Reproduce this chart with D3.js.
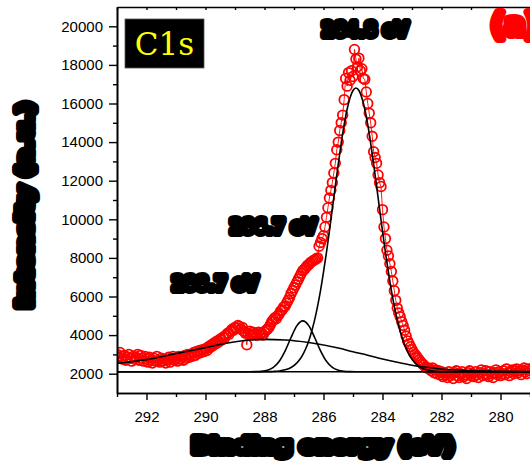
<!DOCTYPE html>
<html><head><meta charset="utf-8">
<script src="https://cdn.jsdelivr.net/npm/d3@7"></script>
<style>html,body{margin:0;padding:0;background:#fff;} svg{display:block;}</style>
</head><body><svg id="chart" width="530" height="471"></svg>
<script>
// ---------------- data ----------------
const bindingEnergy = [
  293.00,292.95,292.90,292.85,292.80,292.75,292.70,292.65,292.60,292.55,
  292.50,292.45,292.40,292.35,292.30,292.25,292.20,292.15,292.10,292.05,
  292.00,291.95,291.90,291.85,291.80,291.75,291.70,291.65,291.60,291.55,
  291.50,291.45,291.40,291.35,291.30,291.25,291.20,291.15,291.10,291.05,
  291.00,290.95,290.90,290.85,290.80,290.75,290.70,290.65,290.60,290.55,
  290.50,290.45,290.40,290.35,290.30,290.25,290.20,290.15,290.10,290.05,
  290.00,289.95,289.90,289.85,289.80,289.75,289.70,289.65,289.60,289.55,
  289.50,289.45,289.40,289.35,289.30,289.25,289.20,289.15,289.10,289.05,
  289.00,288.95,288.90,288.85,288.80,288.75,288.70,288.65,288.60,
  288.55,288.50,288.45,288.40,288.35,288.30,288.25,288.20,288.15,288.10,
  288.05,288.00,287.95,287.90,287.85,287.80,287.75,287.70,287.65,287.60,
  287.55,287.50,287.45,287.40,287.35,287.30,287.25,287.20,287.15,287.10,
  287.05,287.00,286.95,286.90,286.85,286.80,286.75,286.70,286.65,286.60,
  286.55,286.50,286.45,286.40,286.35,286.30,286.25,286.20,286.15,286.10,
  286.05,286.00,285.95,285.90,285.85,285.80,285.75,285.70,285.65,285.60,
  285.55,285.50,285.45,285.40,285.35,285.30,285.25,285.20,285.15,285.10,
  285.05,285.00,284.95,284.90,284.85,284.80,284.75,284.70,284.65,284.60,
  284.55,284.50,284.45,284.40,284.35,284.30,284.25,284.20,284.15,284.10,
  284.05,284.00,283.95,283.90,283.85,283.80,283.75,283.70,283.65,283.60,
  283.55,283.50,283.45,283.40,283.35,283.30,283.25,283.20,283.15,283.10,
  283.05,283.00,282.95,282.90,282.85,282.80,282.75,282.70,282.65,282.60,
  282.55,282.50,
  282.45,282.40,282.35,282.30,282.25,282.20,282.15,282.10,282.05,282.00,
  281.95,281.90,281.85,281.80,281.75,281.70,281.65,281.60,281.55,281.50,
  281.45,281.40,281.35,281.30,281.25,281.20,281.15,281.10,281.05,281.00,
  280.95,280.90,280.85,280.80,280.75,280.70,280.65,280.60,280.55,280.50,
  280.45,280.40,280.35,280.30,280.25,280.20,280.15,280.10,280.05,280.00,
  279.95,279.90,279.85,279.80,279.75,279.70,279.65,279.60,279.55,279.50,
  279.45,279.40,279.35,279.30,279.25,279.20,279.15,279.10,279.05,279.00
];
const intensity = [
  3000,2850,3100,2900,2750,2950,2700,2850,3000,2800,
  2650,2900,2750,2850,3000,2700,2950,2800,2650,2900,
  2750,2600,2850,2700,2550,2800,2650,2900,2700,2600,
  2800,2650,2750,2550,2700,2850,2600,2750,2900,2700,
  2800,2650,2900,2750,2850,2700,2950,2800,3000,2850,
  3000,2900,3100,2950,3150,3050,3200,3100,3250,3150,
  3300,3200,3400,3350,3500,3450,3600,3550,3700,3650,
  3800,3750,3900,3850,4000,4100,4050,4200,4300,4250,
  4400,4350,4500,4450,4300,4400,4200,4100,3500,
  4100,4200,4050,4150,4050,4100,4000,4150,4050,4100,
  4000,4150,4250,4300,4400,4550,4700,4800,4900,4850,
  5000,5100,5250,5300,5450,5500,5650,5800,5950,6150,
  6300,6450,6600,6750,6900,7050,7200,7350,7400,7500,
  7600,7650,7750,7800,7850,7900,7950,8000,8600,8800,
  9000,9150,9600,10100,10600,11100,11500,11900,12400,12900,
  13600,14000,14600,15000,15400,16200,17300,16900,17600,17200,
  17700,17400,18800,18300,17900,18350,17700,17800,17300,17250,
  16600,16000,15500,15000,14300,13500,13200,12900,12300,11900,
  11700,10500,9600,9000,8400,8100,7700,7300,6800,6300,
  5800,5400,5150,4950,4700,4500,4250,3950,3700,3550,
  3400,3250,3100,3000,2900,2800,2700,2600,2500,2450,
  2350,2300,
  2300,2250,2150,2300,2050,2200,2000,2150,1950,2100,
  1850,2050,1950,1800,2100,1900,2000,1750,2050,2150,
  1900,1800,2000,2100,1850,1950,1750,2050,2150,1900,
  2000,1850,2100,1950,1800,2050,2200,1900,2000,2150,
  1950,1850,2100,2000,1800,2050,2200,1950,2100,1900,
  2000,2150,1950,2250,2050,1900,2100,2200,2000,2150,
  2250,2050,2150,1950,2200,2300,2100,2000,2250,2150
];
// fitted components: [binding energy, intensity]
const fitBaseline = [[293,2100],[279,2100]];
const fitPeak2848 = [
  [293,2100],[288.3,2100],[287.9,2106],[287.7,2117],[287.5,2142],[287.3,2200],[287.1,2320],
  [286.9,2560],[286.8,2745],[286.7,2990],[286.6,3305],[286.5,3700],[286.4,4200],[286.3,4790],
  [286.2,5500],[286.1,6320],[286.0,7260],[285.9,8280],[285.8,9390],[285.7,10550],[285.6,11720],
  [285.5,12860],[285.4,13940],[285.3,14900],[285.2,15700],[285.1,16300],[285.0,16675],[284.9,16800],
  [284.8,16675],[284.7,16300],[284.6,15700],[284.5,14900],[284.4,13940],[284.3,12860],[284.2,11720],
  [284.1,10550],[284.0,9390],[283.9,8280],[283.8,7260],[283.7,6320],[283.6,5500],[283.5,4790],
  [283.4,4200],[283.3,3700],[283.2,3305],[283.1,2990],[283.0,2745],[282.9,2560],[282.7,2320],
  [282.5,2200],[282.3,2142],[282.1,2117],[281.9,2106],[281.5,2100],[279,2100]
];
const fitPeak2867 = [
  [293,2100],[288.5,2100],[288.3,2105],[288.1,2121],[287.9,2175],[287.7,2323],[287.5,2643],
  [287.3,3183],[287.1,3875],[286.9,4490],[286.7,4735],[286.5,4490],[286.3,3875],[286.1,3183],
  [285.9,2643],[285.7,2323],[285.5,2175],[285.3,2121],[285.1,2105],[284.9,2100],[279,2100]
];
const fitPeak2887 = [
  [293,2540],[292,2730],[291,3040],[290,3350],[289.3,3580],[288.6,3730],[288,3780],[287.3,3750],
  [286.5,3620],[285.5,3330],[285,3140],[284.5,2960],[284,2760],[283.5,2590],[283,2440],
  [282.5,2330],[282,2240],[281,2160],[280,2125],[279,2110]
];
const xMajorTicks = [292,290,288,286,284,282,280];
const xMinorTicks = [293,291,289,287,285,283,281,279];
const xTopTicks = [293,292,291,290,289,288,287,286,285,284,283,282,281,280,279];
const yMajorTicks = [2000,4000,6000,8000,10000,12000,14000,16000,18000,20000];
const yMinorTicks = [3000,5000,7000,9000,11000,13000,15000,17000,19000];
// label anchors in data coordinates (centre energy, baseline intensity)
const peakLabels = [
  {text:"284.8 eV", e:284.59, v:19500},
  {text:"286.7 eV", e:287.71, v:9300},
  {text:"288.7 eV", e:289.68, v:6350}
];

// ---------------- chart ----------------
const svg = d3.select("#chart");
const mLeft = 117, mRight = 544.75, mTop = 7, mBottom = 393;
const x = d3.scaleLinear().domain([293, 278.5]).range([mLeft, mRight]);
const y = d3.scaleLinear().domain([1000, 21000]).range([mBottom, mTop]);

svg.append("defs").append("clipPath").attr("id","plotclip")
  .append("rect").attr("x",mLeft).attr("y",mTop).attr("width",mRight-mLeft).attr("height",mBottom-mTop);

const pts = bindingEnergy.map((e,i)=>[e, intensity[i]]);
const gData = svg.append("g").attr("clip-path","url(#plotclip)");
gData.append("path").datum(pts)
  .attr("d", d3.line().x(d=>x(d[0])).y(d=>y(d[1])))
  .attr("fill","none").attr("stroke","#ff0000").attr("stroke-width",0.9);
gData.selectAll("circle").data(pts).enter().append("circle")
  .attr("cx", d=>x(d[0])).attr("cy", d=>y(d[1])).attr("r",4.8)
  .attr("fill","none").attr("stroke","#ff0000").attr("stroke-width",1.8);

const fitLine = d3.line().x(d=>x(d[0])).y(d=>y(d[1])).curve(d3.curveMonotoneX);
[fitBaseline, fitPeak2887, fitPeak2867, fitPeak2848].forEach(c=>{
  gData.append("path").datum(c).attr("d", fitLine)
    .attr("fill","none").attr("stroke","#000").attr("stroke-width",1.6);
});

// axes
const tickFont = "'Liberation Sans', Arial, sans-serif";
function styleAxis(g){
  g.selectAll("path.domain").attr("stroke","#000").attr("stroke-width",1.6);
  g.selectAll(".tick line").attr("stroke","#000").attr("stroke-width",1.4);
  g.selectAll(".tick text").attr("font-family",tickFont).attr("font-size","15px").attr("fill","#000");
}
const gx = svg.append("g").attr("transform",`translate(0,${mBottom})`)
  .call(d3.axisBottom(x).tickValues(xMajorTicks).tickSize(7).tickSizeOuter(0).tickPadding(11).tickFormat(d3.format("d")));
styleAxis(gx);
const gxm = svg.append("g").attr("transform",`translate(0,${mBottom})`)
  .call(d3.axisBottom(x).tickValues(xMinorTicks).tickSize(4).tickSizeOuter(0).tickFormat(""));
styleAxis(gxm);
const gxt = svg.append("g").attr("transform",`translate(0,${mTop})`)
  .call(d3.axisTop(x).tickValues(xTopTicks).tickSize(-3).tickSizeOuter(0).tickFormat(""));
styleAxis(gxt);
const gy = svg.append("g").attr("transform",`translate(${mLeft},0)`)
  .call(d3.axisLeft(y).tickValues(yMajorTicks).tickSize(8).tickSizeOuter(0).tickPadding(6).tickFormat(d3.format("d")));
styleAxis(gy);
const gym = svg.append("g").attr("transform",`translate(${mLeft},0)`)
  .call(d3.axisLeft(y).tickValues(yMinorTicks).tickSize(4).tickSizeOuter(0).tickFormat(""));
styleAxis(gym);

// blob-style heavy labels
const blobFont = "'DejaVu Sans', sans-serif";
function blob(sel, color, sw){
  return sel.attr("font-family",blobFont).attr("font-weight","bold")
    .attr("fill",color).attr("stroke",color).attr("stroke-width",sw)
    .attr("stroke-linejoin","round").attr("stroke-linecap","round")
    .attr("paint-order","stroke");
}
blob(svg.append("text").attr("x",323).attr("y",453).attr("text-anchor","middle")
  .attr("font-size",21).attr("textLength",262).attr("lengthAdjust","spacingAndGlyphs")
  .text("Binding energy (eV)"), "#000", 8);
blob(svg.append("text").attr("transform","translate(32,205) rotate(-90)").attr("text-anchor","middle")
  .attr("font-size",21).attr("textLength",206).attr("lengthAdjust","spacingAndGlyphs")
  .text("Intensity (a.u.)"), "#000", 8);

peakLabels.forEach(p=>{
  blob(svg.append("text").attr("x", x(p.e)).attr("y", y(p.v)).attr("text-anchor","middle")
    .attr("font-size",20).attr("textLength",86).attr("lengthAdjust","spacingAndGlyphs")
    .text(p.text), "#000", 8);
});

blob(svg.append("text").attr("x",491).attr("y",35).attr("font-size",30).text("(a)"), "#ff0000", 8);

// C1s box
svg.append("rect").attr("x",125).attr("y",19).attr("width",79).attr("height",49)
  .attr("fill","#000").attr("stroke","#555").attr("stroke-width",0.8);
svg.append("text").attr("x",164.5).attr("y",55).attr("text-anchor","middle")
  .attr("font-family","'DejaVu Serif', serif").attr("font-size",31).attr("fill","#ffff00")
  .text("C1s");
</script></body></html>
